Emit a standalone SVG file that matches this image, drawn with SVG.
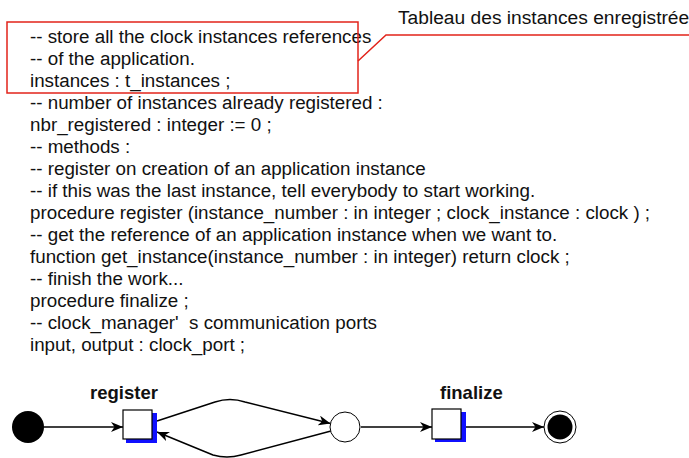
<svg xmlns="http://www.w3.org/2000/svg" width="689" height="458" viewBox="0 0 689 458">
  <style>
    .code { font-family: "Liberation Sans", Arial, sans-serif; font-size: 18.8px; fill: #111; }
    .note { font-family: "Liberation Sans", Arial, sans-serif; font-size: 19.2px; fill: #111; }
    .lbl { font-family: "Liberation Sans", Arial, sans-serif; font-size: 18.5px; font-weight: bold; fill: #111; }
    .callout { fill: none; stroke: #e2231a; stroke-width: 1.5; }
    .edge { fill: none; stroke: #000; stroke-width: 1.5; }
    .trans { fill: #fff; stroke: #000; stroke-width: 1.2; }
    .shadow { fill: #1010ff; }
    .place { fill: #fff; stroke: #000; stroke-width: 1; }
  </style>
  <defs>
    <marker id="arrow" viewBox="0 0 12 10" markerWidth="12" markerHeight="10" refX="12" refY="5" orient="auto" markerUnits="userSpaceOnUse">
      <path d="M0,0 L12,5 L0,10 L3.5,5 z" fill="#000"/>
    </marker>
  </defs>
  <rect width="689" height="458" fill="#fff"/>

  <!-- declarations of clock_manager -->
  <g id="code">
    <text class="code" x="30" y="43">-- store all the clock instances references</text>
    <text class="code" x="30" y="65">-- of the application.</text>
    <text class="code" x="30" y="87">instances : t_instances ;</text>
    <text class="code" x="30" y="109">-- number of instances already registered :</text>
    <text class="code" x="30" y="131">nbr_registered : integer := 0 ;</text>
    <text class="code" x="30" y="153">-- methods :</text>
    <text class="code" x="30" y="175">-- register on creation of an application instance</text>
    <text class="code" x="30" y="197">-- if this was the last instance, tell everybody to start working.</text>
    <text class="code" x="30" y="219">procedure register (instance_number : in integer ; clock_instance : clock ) ;</text>
    <text class="code" x="30" y="241">-- get the reference of an application instance when we want to.</text>
    <text class="code" x="30" y="263">function get_instance(instance_number : in integer) return clock ;</text>
    <text class="code" x="30" y="285">-- finish the work...</text>
    <text class="code" x="30" y="307">procedure finalize ;</text>
    <text class="code" x="30" y="329" xml:space="preserve">-- clock_manager'  s communication ports</text>
    <text class="code" x="30" y="351">input, output : clock_port ;</text>
  </g>

  <!-- callout on the instances table -->
  <g id="callout">
    <rect class="callout" x="7" y="22" width="351" height="71"/>
    <polyline class="callout" points="358,61 386,35 689,35"/>
    <text class="note" x="398" y="24">Tableau des instances enregistrée</text>
  </g>

  <!-- Petri net of the manager behaviour -->
  <g id="connectors">
    <line class="edge" x1="44" y1="427" x2="123" y2="427" marker-end="url(#arrow)"/>
    <path class="edge" d="M157,421 L215,402 Q230,397 245,402 L330.5,423.4" marker-end="url(#arrow)"/>
    <path class="edge" d="M331,431 L241,455 Q227,459 213,455 L157,432" marker-end="url(#arrow)"/>
    <line class="edge" x1="361" y1="427" x2="432" y2="427" marker-end="url(#arrow)"/>
    <line class="edge" x1="466" y1="427" x2="544" y2="427" marker-end="url(#arrow)"/>
  </g>

  <g id="start">
    <circle cx="28" cy="427" r="16" fill="#000"/>
  </g>

  <g id="register">
    <rect class="shadow" x="126" y="413" width="31" height="30"/>
    <rect class="trans" x="123" y="410" width="29" height="29"/>
    <text class="lbl" x="90" y="399">register</text>
  </g>

  <g id="waiting">
    <circle class="place" cx="345" cy="427" r="15"/>
  </g>

  <g id="finalize">
    <rect class="shadow" x="435" y="412" width="31" height="30"/>
    <rect class="trans" x="432" y="409" width="29" height="30"/>
    <text class="lbl" x="440" y="399">finalize</text>
  </g>

  <g id="end">
    <circle class="place" cx="560" cy="427" r="16"/>
    <circle cx="560" cy="427" r="12.5" fill="#000"/>
  </g>
</svg>
